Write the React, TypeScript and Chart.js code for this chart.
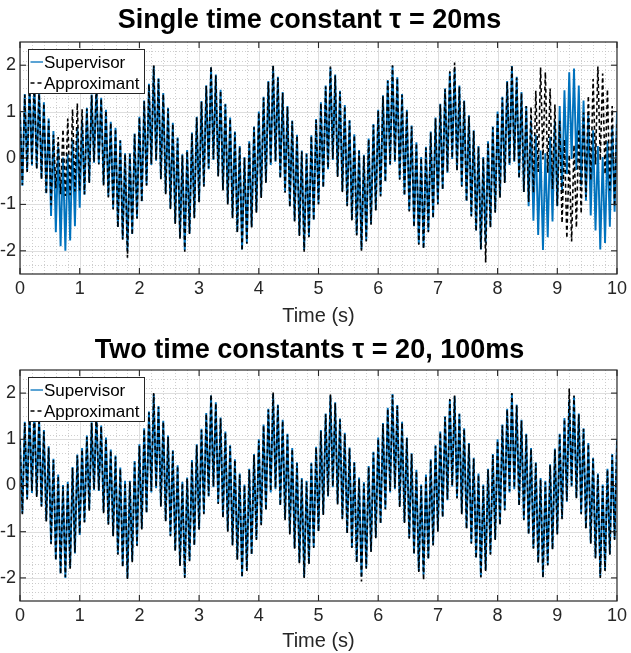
import React, { useEffect, useRef } from 'react';
import { Chart, registerables } from 'chart.js';

Chart.register(...registerables);

const FONT = '"Liberation Sans", Arial, Helvetica, sans-serif';

// sample grid (s)
const SAMPLE_STEP = 0.04;
const X_TICKS = [0, 1, 2, 3, 4, 5, 6, 7, 8, 9, 10];
const Y_TICKS = [-2, -1, 0, 1, 2];
const MINOR_STEP = 0.2;
const X_LABEL = 'Time (s)';
const TITLES = ['Single time constant \u03C4 = 20ms', 'Two time constants \u03C4 = 20, 100ms'];
const SERIES_NAMES = ['Supervisor', 'Approximant'];

// Supervisor signal (same in both panels): alternating extremes of the fast oscillation, one row per second
const SUPERVISOR = [
  1.0, -0.6, 1.38, -0.28, 1.61, -0.16, 1.63, -0.22, 1.48, -0.44, 1.2, -0.76, 0.85, -1.25, 0.58, -1.6, 0.24, -1.9, 0.01, -2.0, 0.08, -1.78, 0.4, -1.47, 0.67,
  -1.07, 0.81, -0.79, 1.08, -0.52, 1.37, -0.1, 1.59, -0.12, 1.3, -0.57, 1.04, -0.83, 0.78, -1.09, 0.65, -1.48, 0.39, -1.74, 0.1, -2.0, 0.1, -1.64, 0.53, -1.29,
  0.89, -0.93, 1.24, -0.58, 1.6, -0.15, 1.98, -0.06, 1.72, -0.44, 1.4, -0.76, 1.08, -1.08, 0.76, -1.4, 0.44, -1.72, 0.08, -1.98, 0.17, -1.62, 0.55, -1.28, 0.89,
  -0.94, 1.23, -0.6, 1.57, -0.24, 1.95, -0.04, 1.8, -0.38, 1.47, -0.68, 1.17, -0.98, 0.87, -1.28, 0.57, -1.59, 0.26, -1.97, 0.02, -1.83, 0.36, -1.48, 0.68, -1.16,
  1.0, -0.84, 1.32, -0.52, 1.66, -0.15, 1.98, -0.08, 1.75, -0.42, 1.42, -0.73, 1.12, -1.04, 0.81, -1.35, 0.5, -1.66, 0.16, -1.98, 0.1, -1.69, 0.49, -1.33, 0.84,
  -0.98, 1.2, -0.62, 1.56, -0.24, 1.95, -0.04, 1.8, -0.39, 1.45, -0.71, 1.14, -1.02, 0.82, -1.33, 0.51, -1.65, 0.17, -1.97, 0.07, -1.78, 0.42, -1.42, 0.73, -1.12,
  1.04, -0.81, 1.35, -0.5, 1.68, -0.15, 1.98, -0.08, 1.74, -0.45, 1.38, -0.79, 1.04, -1.13, 0.7, -1.47, 0.34, -1.85, 0.02, -1.93, 0.24, -1.58, 0.57, -1.28, 0.87,
  -0.98, 1.17, -0.67, 1.5, -0.32, 1.85, -0.02, 1.93, -0.26, 1.56, -0.6, 1.24, -0.92, 0.92, -1.24, 0.6, -1.56, 0.26, -1.97, 0.02, -1.83, 0.36, -1.48, 0.68, -1.16,
  1.0, -0.84, 1.32, -0.52, 1.66, -0.15, 1.98, -0.08, 1.75, -0.42, 1.42, -0.73, 1.12, -1.04, 0.81, -1.35, 0.5, -1.66, 0.16, -1.98, 0.1, -1.71, 0.46, -1.37, 0.8,
  -1.04, 1.12, -0.71, 1.46, -0.35, 1.85, -0.02, 1.93, -0.26, 1.56, -0.6, 1.24, -0.92, 0.92, -1.24, 0.6, -1.56, 0.26, -1.97, 0.02, -1.83, 0.36, -1.48, 0.68, -1.16,
  1.0,
];

// Approximant, single time constant (departs from the supervisor near 0.5-1.0 s and after 8.5 s)
const APPROX_SINGLE = [
  0.97, -0.58, 1.36, -0.3, 1.6, -0.13, 1.6, -0.24, 1.46, -0.46, 1.18, -0.78, 0.8, -1.02, 0.5, -0.65, 0.45, -0.78, 0.62, -0.82, 0.85, -0.8, 1.05, -0.72, 1.18,
  -0.7, 1.05, -0.78, 1.06, -0.54, 1.35, -0.08, 1.57, -0.14, 1.28, -0.59, 1.02, -0.85, 0.76, -1.11, 0.63, -1.5, 0.37, -1.76, 0.08, -2.15, 0.08, -1.66, 0.51, -1.31,
  0.87, -0.95, 1.22, -0.6, 1.58, -0.13, 2.0, -0.04, 1.7, -0.46, 1.38, -0.78, 1.06, -1.1, 0.74, -1.42, 0.42, -1.74, 0.06, -2.02, 0.15, -1.64, 0.53, -1.3, 0.87,
  -0.96, 1.21, -0.62, 1.55, -0.22, 1.98, -0.02, 1.78, -0.4, 1.45, -0.7, 1.15, -1.0, 0.85, -1.3, 0.55, -1.61, 0.24, -2.0, 0.0, -1.85, 0.34, -1.5, 0.66, -1.18,
  0.98, -0.86, 1.3, -0.54, 1.64, -0.13, 2.0, -0.06, 1.73, -0.44, 1.4, -0.75, 1.1, -1.06, 0.79, -1.37, 0.48, -1.68, 0.14, -2.02, 0.08, -1.71, 0.47, -1.35, 0.82,
  -1.0, 1.18, -0.64, 1.54, -0.22, 1.97, -0.02, 1.78, -0.41, 1.43, -0.73, 1.12, -1.04, 0.8, -1.35, 0.49, -1.67, 0.15, -2.0, 0.05, -1.8, 0.4, -1.44, 0.71, -1.14,
  1.02, -0.83, 1.33, -0.52, 1.66, -0.13, 2.0, -0.06, 1.72, -0.47, 1.36, -0.81, 1.02, -1.15, 0.68, -1.49, 0.32, -1.87, 0.0, -1.96, 0.22, -1.6, 0.55, -1.3, 0.85,
  -1.0, 1.15, -0.69, 1.48, -0.3, 1.87, 0.0, 2.06, -0.28, 1.54, -0.62, 1.22, -0.94, 0.9, -1.26, 0.58, -1.58, 0.24, -1.97, 0.0, -2.25, 0.34, -1.5, 0.66, -1.18,
  0.98, -0.86, 1.3, -0.54, 1.64, -0.13, 2.0, -0.06, 1.73, -0.44, 1.4, -0.73, 1.12, -0.95, 1.1, -0.75, 1.45, -0.3, 1.95, -0.03, 1.85, -0.32, 1.5, -0.67, 1.15,
  -1.03, 0.8, -1.4, 0.4, -1.73, 0.07, -1.8, 0.28, -1.5, 0.62, -1.2, 0.98, -0.84, 1.34, -0.48, 1.7, -0.14, 1.97, -0.05, 1.82, -0.35, 1.48, -0.7, 1.12, -1.05,
  0.8,
];

// Approximant, two time constants (tracks the supervisor closely)
const APPROX_TWO = [
  0.96, -0.62, 1.35, -0.3, 1.58, -0.12, 1.6, -0.25, 1.45, -0.46, 1.17, -0.78, 0.82, -1.27, 0.55, -1.62, 0.21, -1.92, -0.02, -1.98, 0.06, -1.8, 0.38, -1.45, 0.65,
  -1.05, 0.78, -0.8, 1.05, -0.55, 1.35, -0.08, 1.62, -0.1, 1.28, -0.6, 1.02, -0.85, 0.76, -1.1, 0.62, -1.5, 0.36, -1.77, 0.06, -2.03, 0.08, -1.66, 0.5, -1.31,
  0.86, -0.95, 1.22, -0.6, 1.58, -0.12, 2.0, -0.03, 1.7, -0.46, 1.38, -0.78, 1.05, -1.1, 0.74, -1.42, 0.42, -1.74, 0.05, -2.0, 0.15, -1.64, 0.52, -1.3, 0.87,
  -0.96, 1.2, -0.62, 1.55, -0.22, 1.97, -0.02, 1.78, -0.4, 1.45, -0.7, 1.15, -1.0, 0.85, -1.3, 0.55, -1.61, 0.23, -1.99, 0.0, -1.85, 0.34, -1.5, 0.66, -1.18,
  0.97, -0.86, 1.3, -0.54, 1.64, -0.12, 2.02, -0.05, 1.73, -0.44, 1.4, -0.75, 1.1, -1.06, 0.79, -1.37, 0.48, -1.68, 0.13, -2.0, 0.07, -1.71, 0.47, -1.35, 0.82,
  -1.0, 1.18, -0.64, 1.54, -0.22, 1.97, -0.02, 1.78, -0.41, 1.43, -0.73, 1.12, -1.04, 0.8, -1.35, 0.49, -1.67, 0.14, -2.08, 0.04, -1.8, 0.4, -1.44, 0.71, -1.14,
  1.01, -0.83, 1.33, -0.52, 1.66, -0.12, 1.96, -0.05, 1.72, -0.47, 1.36, -0.81, 1.02, -1.15, 0.68, -1.49, 0.31, -1.87, -0.01, -2.05, 0.21, -1.6, 0.55, -1.3, 0.85,
  -1.0, 1.15, -0.69, 1.48, -0.3, 1.87, 0.0, 1.95, -0.28, 1.54, -0.62, 1.22, -0.94, 0.9, -1.26, 0.58, -1.58, 0.23, -1.99, -0.01, -1.85, 0.34, -1.5, 0.66, -1.18,
  0.97, -0.86, 1.3, -0.54, 1.64, -0.12, 2.0, -0.05, 1.73, -0.44, 1.4, -0.75, 1.1, -1.06, 0.79, -1.37, 0.48, -1.68, 0.13, -2.0, 0.07, -1.73, 0.44, -1.39, 0.78,
  -1.06, 1.1, -0.73, 1.44, -0.33, 2.1, 0.0, 1.95, -0.28, 1.54, -0.62, 1.22, -0.94, 0.9, -1.26, 0.58, -1.58, 0.23, -2.0, -0.01, -1.85, 0.34, -1.5, 0.66, -1.18,
  0.97,
];

const TIME = SUPERVISOR.map((_, i) => +(i * SAMPLE_STEP).toFixed(2));

const BLUE = '#0072BD';
const AXIS_COLOR = '#262626';

const matlabAxes = {
  id: 'matlabAxes',
  beforeDatasetsDraw(chart: any) {
    const { ctx, chartArea: a, scales } = chart;
    const x = scales.x;
    const y = scales.y;
    ctx.save();
    ctx.beginPath();
    ctx.rect(a.left, a.top, a.right - a.left, a.bottom - a.top);
    ctx.clip();
    // minor grid
    ctx.strokeStyle = '#c2c2c2';
    ctx.lineWidth = 0.8;
    ctx.setLineDash([1, 2]);
    const xMin = x.min, xMax = x.max, yMin = y.min, yMax = y.max;
    const nx = Math.round((xMax - xMin) / MINOR_STEP);
    for (let i = 1; i < nx; i++) {
      const v = xMin + i * MINOR_STEP;
      if (Math.abs(v - Math.round(v)) < 1e-6) continue;
      const px = Math.round(x.getPixelForValue(v)) + 0.5;
      ctx.beginPath(); ctx.moveTo(px, a.top); ctx.lineTo(px, a.bottom); ctx.stroke();
    }
    const ny = Math.round((yMax - yMin) / MINOR_STEP);
    for (let i = 1; i < ny; i++) {
      const v = yMin + i * MINOR_STEP;
      if (Math.abs(v - Math.round(v)) < 1e-6) continue;
      const py = Math.round(y.getPixelForValue(v)) + 0.5;
      ctx.beginPath(); ctx.moveTo(a.left, py); ctx.lineTo(a.right, py); ctx.stroke();
    }
    // major grid
    ctx.setLineDash([]);
    ctx.strokeStyle = '#dedede';
    ctx.lineWidth = 1;
    X_TICKS.forEach((v) => {
      const px = Math.round(x.getPixelForValue(v)) + 0.5;
      ctx.beginPath(); ctx.moveTo(px, a.top); ctx.lineTo(px, a.bottom); ctx.stroke();
    });
    Y_TICKS.forEach((v) => {
      const py = Math.round(y.getPixelForValue(v)) + 0.5;
      ctx.beginPath(); ctx.moveTo(a.left, py); ctx.lineTo(a.right, py); ctx.stroke();
    });
    ctx.restore();
  },
  afterDatasetsDraw(chart: any) {
    const { ctx, chartArea: a, scales } = chart;
    const x = scales.x;
    const y = scales.y;
    ctx.save();
    ctx.setLineDash([]);
    ctx.strokeStyle = AXIS_COLOR;
    ctx.lineWidth = 1.2;
    ctx.strokeRect(a.left, a.top, a.right - a.left, a.bottom - a.top);
    const tl = 6;
    ctx.lineWidth = 1.1;
    X_TICKS.forEach((v) => {
      const px = x.getPixelForValue(v);
      ctx.beginPath(); ctx.moveTo(px, a.bottom); ctx.lineTo(px, a.bottom - tl); ctx.stroke();
      ctx.beginPath(); ctx.moveTo(px, a.top); ctx.lineTo(px, a.top + tl); ctx.stroke();
    });
    Y_TICKS.forEach((v) => {
      const py = y.getPixelForValue(v);
      ctx.beginPath(); ctx.moveTo(a.left, py); ctx.lineTo(a.left + tl, py); ctx.stroke();
      ctx.beginPath(); ctx.moveTo(a.right, py); ctx.lineTo(a.right - tl, py); ctx.stroke();
    });
    // legend box
    const lx = a.left + 8.5;
    const ly = a.top + 7.5;
    const lw = 116;
    const lh = 44;
    ctx.fillStyle = '#ffffff';
    ctx.fillRect(lx, ly, lw, lh);
    ctx.strokeStyle = AXIS_COLOR;
    ctx.lineWidth = 1;
    ctx.strokeRect(lx, ly, lw, lh);
    const rows = [ly + 12.5, ly + 33.5];
    ctx.font = `17px ${FONT}`;
    ctx.textBaseline = 'middle';
    ctx.textAlign = 'left';
    chart.data.datasets.forEach((ds: any, i: number) => {
      const ry = rows[i];
      ctx.save();
      ctx.strokeStyle = ds.borderColor;
      ctx.lineWidth = 1.3;
      ctx.setLineDash(ds.borderDash || []);
      ctx.beginPath(); ctx.moveTo(lx + 2, ry); ctx.lineTo(lx + 14.5, ry); ctx.stroke();
      ctx.restore();
      ctx.fillStyle = '#000000';
      ctx.fillText(ds.label, lx + 15.5, ry + 1);
    });
    ctx.restore();
  },
};

function makeConfig(title: string, approx: number[], opts: { titlePad: { top: number; bottom: number }; padBottom: number; xHeight: number }) {
  return {
    type: 'line' as const,
    data: {
      datasets: [
        {
          label: SERIES_NAMES[0],
          data: TIME.map((t, i) => ({ x: t, y: SUPERVISOR[i] })),
          borderColor: BLUE,
          borderWidth: 1.9,
          pointRadius: 0,
          tension: 0,
          borderJoinStyle: 'bevel' as const,
          order: 2,
        },
        {
          label: SERIES_NAMES[1],
          data: TIME.map((t, i) => ({ x: t, y: approx[i] })),
          borderColor: '#000000',
          borderWidth: 1.6,
          borderDash: [4, 3],
          pointRadius: 0,
          tension: 0,
          borderJoinStyle: 'bevel' as const,
          order: 1,
        },
      ],
    },
    options: {
      animation: false as const,
      responsive: false,
      maintainAspectRatio: false,
      events: [] as any[],
      layout: { padding: { left: 0, right: 12, top: 0, bottom: opts.padBottom } },
      plugins: {
        legend: { display: false },
        tooltip: { enabled: false },
        title: {
          display: true,
          text: title,
          color: '#000000',
          font: { family: FONT, size: 27, weight: 'bold' as const, lineHeight: 1.2 },
          padding: opts.titlePad,
        },
      },
      scales: {
        x: {
          type: 'linear' as const,
          min: 0,
          max: 10,
          afterBuildTicks: (s: any) => {
            s.ticks = X_TICKS.map((v) => ({ value: v }));
          },
          afterFit: (s: any) => {
            s.height = opts.xHeight;
          },
          ticks: {
            font: { family: FONT, size: 18 },
            color: AXIS_COLOR,
            padding: 4,
            maxRotation: 0,
            autoSkip: false,
          },
          grid: { display: false, drawTicks: false },
          border: { display: false },
          title: {
            display: true,
            text: X_LABEL,
            color: AXIS_COLOR,
            font: { family: FONT, size: 20, lineHeight: 1 },
            padding: 0,
          },
        },
        y: {
          type: 'linear' as const,
          min: -2.5,
          max: 2.5,
          afterBuildTicks: (s: any) => {
            s.ticks = Y_TICKS.map((v) => ({ value: v }));
          },
          afterFit: (s: any) => {
            s.width = 20;
          },
          ticks: {
            font: { family: FONT, size: 18 },
            color: AXIS_COLOR,
            padding: 4,
            autoSkip: false,
          },
          grid: { display: false, drawTicks: false },
          border: { display: false },
        },
      },
    },
    plugins: [matlabAxes],
  };
}

function Panel({ width, height, config }: { width: number; height: number; config: any }) {
  const ref = useRef<HTMLCanvasElement | null>(null);
  useEffect(() => {
    if (!ref.current) return;
    const chart = new Chart(ref.current, config);
    return () => chart.destroy();
  }, []);
  return <canvas ref={ref} width={width} height={height} style={{ display: 'block', width, height }} />;
}

export default function App() {
  const topCfg = makeConfig(TITLES[0], APPROX_SINGLE, { titlePad: { top: 4, bottom: 5.6 }, padBottom: 0, xHeight: 52 });
  const botCfg = makeConfig(TITLES[1], APPROX_TWO, { titlePad: { top: 8.8, bottom: 2.8 }, padBottom: 2, xHeight: 50 });
  return (
    <div style={{ position: 'absolute', left: 0, top: 0, width: 631, height: 653, background: '#ffffff' }}>
      <Panel width={631} height={326} config={topCfg} />
      <Panel width={631} height={327} config={botCfg} />
    </div>
  );
}
